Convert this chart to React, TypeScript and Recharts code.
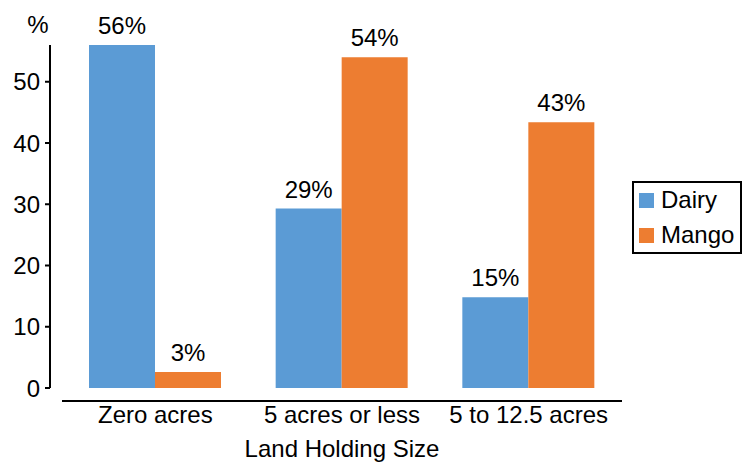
import { BarChart, Bar, XAxis, YAxis, Legend, LabelList } from 'recharts';

const categories = ['Zero acres', '5 acres or less', '5 to 12.5 acres'];
const dairy = [56, 29.3, 14.8];
const mango = [2.6, 54, 43.4];
const yTicks = [0, 10, 20, 30, 40, 50];

const data = categories.map((name, i) => ({ name, Dairy: dairy[i], Mango: mango[i] }));

const FONT = '"Liberation Sans", Arial, Helvetica, sans-serif';
const BLUE = '#5B9BD5';
const ORANGE = '#ED7D31';

const pct = (v: any) => `${Math.round(Number(v))}%`;

const LegendBox = () => (
  <div
    style={{
      width: 110,
      height: 73,
      boxSizing: 'border-box',
      border: '2px solid #000',
      paddingLeft: 5,
      fontFamily: FONT,
      fontSize: 24,
      color: '#000',
    }}
  >
    {[
      { label: 'Dairy', color: BLUE },
      { label: 'Mango', color: ORANGE },
    ].map((it) => (
      <div key={it.label} style={{ display: 'flex', alignItems: 'center', height: 35, lineHeight: '35px' }}>
        <span style={{ width: 15, height: 15, background: it.color, marginRight: 7, display: 'inline-block' }} />
        <span style={{ marginTop: -3 }}>{it.label}</span>
      </div>
    ))}
  </div>
);

export default function App() {
  return (
    <div style={{ position: 'absolute', left: 0, top: 0, width: 742, height: 462, background: '#fff' }}>
      <BarChart
        width={742}
        height={462}
        data={data}
        margin={{ top: 45, right: 120, bottom: 14, left: 0 }}
        barCategoryGap={27}
        barGap={0}
        style={{ fontFamily: FONT }}
      >
        <XAxis
          dataKey="name"
          height={60}
          tickLine={false}
          tickSize={0}
          tickMargin={18}
          axisLine={{ stroke: '#000', strokeWidth: 2, transform: 'translate(0,13)' }}
          tick={{ fontSize: 24, fill: '#000', fontFamily: FONT }}
          label={{
            content: ({ viewBox }: any) => (
              <text
                x={viewBox.x + viewBox.width / 2}
                y={viewBox.y + 69}
                textAnchor="middle"
                fontSize={24}
                fontFamily={FONT}
                fill="#000"
              >
                Land Holding Size
              </text>
            ),
          }}
        />
        <YAxis
          width={62}
          domain={[0, 56]}
          ticks={yTicks}
          interval={0}
          tickSize={5}
          tickMargin={17}
          axisLine={{ stroke: '#000', strokeWidth: 2, transform: 'translate(-12,0)' }}
          tickLine={{ stroke: '#000', strokeWidth: 2, transform: 'translate(-12,0)' }}
          tick={{ fontSize: 24, fill: '#000', fontFamily: FONT }}
          label={{
            content: ({ viewBox }: any) => (
              <text
                x={viewBox.x + viewBox.width - 24}
                y={viewBox.y - 12}
                textAnchor="middle"
                fontSize={24}
                fontFamily={FONT}
                fill="#000"
              >
                %
              </text>
            ),
          }}
        />
        <Legend
          layout="horizontal"
          verticalAlign="middle"
          align="center"
          content={<LegendBox />}
          wrapperStyle={{ left: 632, top: 181, width: 110, height: 73 }}
        />
        <Bar dataKey="Dairy" fill={BLUE} isAnimationActive={false}>
          <LabelList dataKey="Dairy" position="top" offset={11} formatter={pct} fontSize={24} fill="#000" fontFamily={FONT} />
        </Bar>
        <Bar dataKey="Mango" fill={ORANGE} isAnimationActive={false}>
          <LabelList dataKey="Mango" position="top" offset={11} formatter={pct} fontSize={24} fill="#000" fontFamily={FONT} />
        </Bar>
      </BarChart>
    </div>
  );
}
